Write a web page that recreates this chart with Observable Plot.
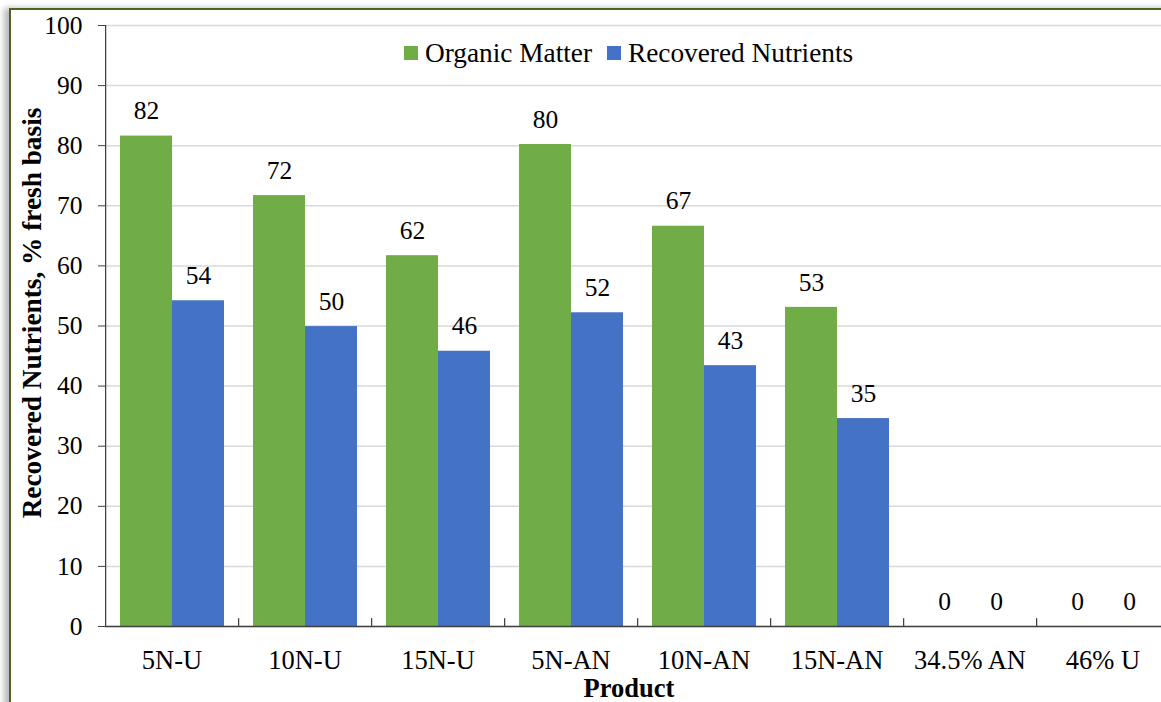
<!DOCTYPE html>
<html>
<head>
<meta charset="utf-8">
<script src="https://cdn.jsdelivr.net/npm/d3@7"></script>
<script src="https://cdn.jsdelivr.net/npm/@observablehq/plot@0.6"></script>
<style>
  html, body { margin:0; padding:0; background:#fff; overflow:hidden; width:1161px; height:702px; }
  #wrap { position:relative; width:1161px; height:702px; overflow:hidden; background:#fff;
          font-family:"Liberation Serif","Times New Roman",serif; color:#000; }
  #frame { position:absolute; left:9px; top:8px; width:1300px; height:800px;
           border-left:2.5px solid #4f6228; border-top:2.5px solid #4f6228;
           box-shadow:-5px 0 6px rgba(0,0,0,0.28); background:#fff; }
  #chart { position:absolute; left:0; top:0; }
  #chart svg, #chart svg text { font-family:"Liberation Serif","Times New Roman",serif; }
  #legend { position:absolute; top:38px; left:404px; display:flex; align-items:center;
            font-size:27.3px; line-height:30px; white-space:nowrap; }
  #legend .item { display:flex; align-items:center; margin-right:15px; }
  #legend .sw { width:14px; height:14px; margin-right:7px; }
  #ytitle { position:absolute; left:32px; top:313px; transform:translate(-50%,-50%) rotate(-90deg);
            font-weight:bold; font-size:27.3px; white-space:nowrap; line-height:30px; }
  #xtitle { position:absolute; left:629px; top:675px; transform:translateX(-50%);
            font-weight:bold; font-size:26.5px; line-height:26px; white-space:nowrap; }
</style>
</head>
<body>
<div id="wrap">
  <div id="frame"></div>
  <div id="chart"></div>
  <div id="legend"></div>
  <div id="ytitle"></div>
  <div id="xtitle"></div>
</div>
<script>
const products = ["5N-U", "10N-U", "15N-U", "5N-AN", "10N-AN", "15N-AN", "34.5% AN", "46% U"];
const series = ["Organic Matter", "Recovered Nutrients"];
const organicMatter = [81.6, 71.7, 61.7, 80.2, 66.6, 53.1, 0, 0];
const recoveredNutrients = [54.2, 49.9, 45.8, 52.2, 43.4, 34.6, 0, 0];
const yTicks = [0, 10, 20, 30, 40, 50, 60, 70, 80, 90, 100];
const colors = ["#70ad47", "#4472c4"];
const yTitle = "Recovered Nutrients, % fresh basis";
const xTitle = "Product";

const rows = products.flatMap((p, i) => [
  {product: p, series: series[0], value: organicMatter[i]},
  {product: p, series: series[1], value: recoveredNutrients[i]}
]);

const W = 1180, H = 702, mL = 104, mR = 10, mT = 25, mB = 76;
const bandW = (W - mL - mR) / products.length;
const axisColor = "#404040";
const serif = "'Liberation Serif', 'Times New Roman', serif";

const chart = Plot.plot({
  width: W, height: H,
  marginLeft: mL, marginRight: mR, marginTop: mT, marginBottom: mB,
  style: `background:transparent;max-width:none;overflow:visible;font-family:${serif};font-size:25px;color:#000;`,
  fx: {domain: products, padding: 0, label: null},
  x: {domain: series, paddingInner: 0, paddingOuter: 0.265, axis: null},
  y: {domain: [0, 100], label: null},
  color: {domain: series, range: colors},
  marks: [
    Plot.gridY(yTicks, {stroke: "#d9d9d9", strokeOpacity: 1, strokeWidth: 1.5}),
    Plot.barY(rows, {fx: "product", x: "series", y: "value", fill: "series"}),
    Plot.text(rows, {fx: "product", x: "series", y: "value",
                     text: d => d3.format(".0f")(d.value), dy: -25, fontSize: 25.5,
                     fontFamily: serif, fill: "#000"}),
    Plot.ruleY([0], {stroke: axisColor, strokeWidth: 1.5}),
    Plot.rect(products.slice(1), {fx: d => d, y1: 0, y2: 1.3, insetRight: bandW - 1.5, fill: axisColor}),
    Plot.rect(products.slice(0, 1), {fx: d => d, y1: 0, y2: 100, insetRight: bandW - 1.5, fill: axisColor}),
    Plot.axisY(yTicks, {tickSize: 7, tickPadding: 16, fontSize: 25.5, fontFamily: serif,
                        label: null, stroke: axisColor}),
    Plot.axisFx({anchor: "bottom", tickSize: 0, tickPadding: 24, fontSize: 26.5, fontFamily: serif, label: null})
  ]
});
document.getElementById("chart").appendChild(chart);

const legend = document.getElementById("legend");
series.forEach((s, i) => {
  const item = document.createElement("div");
  item.className = "item";
  const sw = document.createElement("div");
  sw.className = "sw";
  sw.style.background = colors[i];
  const label = document.createElement("span");
  label.textContent = s;
  item.appendChild(sw);
  item.appendChild(label);
  legend.appendChild(item);
});
document.getElementById("ytitle").textContent = yTitle;
document.getElementById("xtitle").textContent = xTitle;
</script>
</body>
</html>
